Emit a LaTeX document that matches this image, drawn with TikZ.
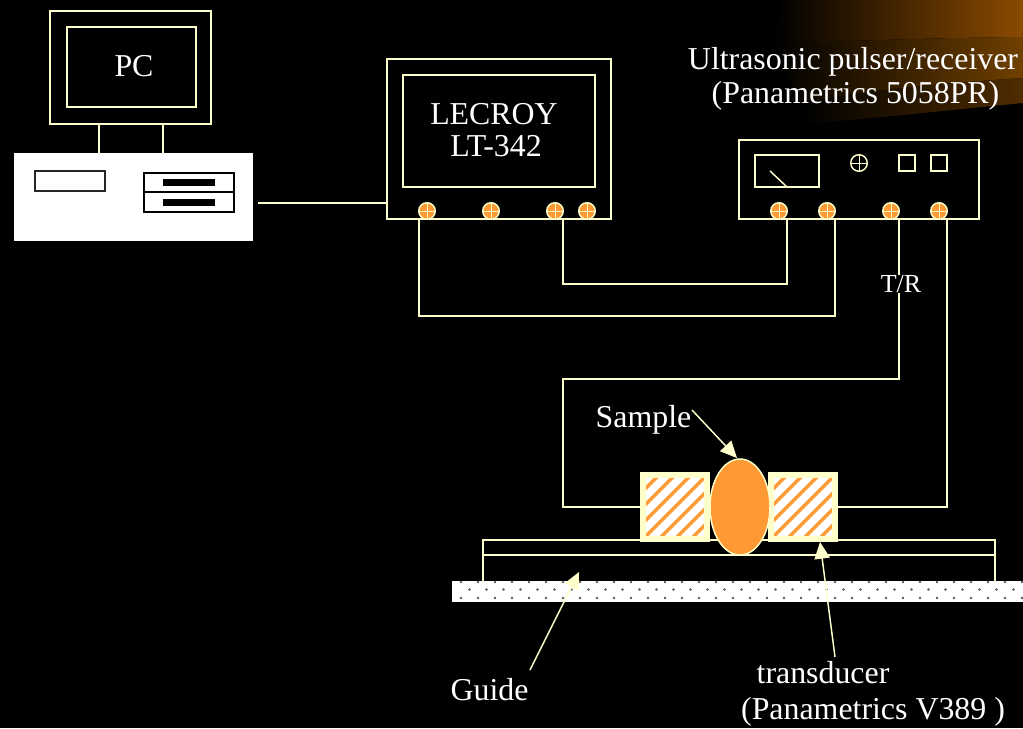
\documentclass[tikz,border=0pt]{standalone}
\usepackage{fontspec}
\setmainfont{Liberation Serif}
\usetikzlibrary{arrows.meta}
\definecolor{pale}{HTML}{FFFFCC}
\definecolor{orng}{HTML}{FF9933}
\definecolor{swoosh}{HTML}{8A4A00}
\definecolor{swoosha}{HTML}{704000}
\definecolor{swooshb}{HTML}{502C00}
\tikzset{
  x=0.75pt,y=-0.75pt,
  wire/.style={draw=pale,line width=1.1pt},
  box/.style={draw=pale,line width=1.1pt},
  port/.style={circle,draw=pale,fill=orng,line width=1.1pt,minimum size=12.4pt,inner sep=0pt,
    path picture={\draw[pale,line width=.75pt]
      (path picture bounding box.north)--(path picture bounding box.south)
      (path picture bounding box.west)--(path picture bounding box.east);}},
  knob/.style={port,fill=none},
  lbl/.style={text=white,inner sep=0pt,font=\fontsize{23.9pt}{28pt}\selectfont},
  small/.style={text=white,inner sep=0pt,font=\fontsize{19.5pt}{23pt}\selectfont},
  pointer/.style={draw=pale,line width=1.1pt,-{Triangle[length=12.5pt,width=11.5pt,fill=pale]}},
}
\begin{document}
\begin{tikzpicture}
\useasboundingbox (0,0) rectangle (1023,728);
\fill[black] (0,0) rectangle (1023,728);
% background swoosh
\shade[left color=black,right color=swoosh,draw=none]
  (780,0) -- (1023,0) -- (1023,37) .. controls (920,38) and (850,41) .. (775,44) -- cycle;
\shade[left color=black,right color=swoosha,draw=none]
  (775,44) .. controls (850,41) and (920,38) .. (1023,37) -- (1023,78) .. controls (930,84) and (850,92) .. (800,104) -- cycle;
\shade[left color=black,right color=swooshb,draw=none]
  (800,104) .. controls (850,92) and (930,84) .. (1023,78) -- (1023,103) .. controls (950,110) and (880,118) .. (802,124) -- cycle;

% PC
\draw[box] (50,11) rectangle (211,124);
\draw[box] (67,27) rectangle (196,107);
\coordinate (pcA) at (99,124); \coordinate (pcB) at (163,124);
\node[lbl] (pclabel) at (134,66) {PC};
\node[fill=white,draw=none,minimum width=179.25pt,minimum height=66pt,inner sep=0pt] (tower) at (133.5,197) {};
\draw[wire] (pcA) -- (pcA |- tower.north);
\draw[wire] (pcB) -- (pcB |- tower.north);
\draw[black!85,line width=1.1pt,fill=white] (35,171) rectangle (105,191);
\draw[black,line width=1.1pt,fill=white] (144,173) rectangle (234,192);
\draw[black,line width=1.1pt,fill=white] (144,192) rectangle (234,212);
\fill[black] (163,179) rectangle (215,186);
\fill[black] (163,199) rectangle (215,206);

% LeCroy
\node[box,minimum width=168pt,minimum height=120pt,inner sep=0pt] (scope) at (499,139) {};
\draw[box] (403,75) rectangle (595,187);
\node[lbl] (lecroy) at (494,114) {LECROY};
\node[lbl] (lt) at (496,146) {LT-342};
\node[port] (s1) at (427,211) {};
\node[port] (s2) at (491,211) {};
\node[port] (s3) at (555,211) {};
\node[port] (s4) at (587,211) {};
\coordinate (towerR) at (258,203);
\draw[wire] (towerR) -- (towerR -| scope.west);

% Pulser
\node[box,minimum width=180pt,minimum height=59.25pt,inner sep=0pt] (pulser) at (859,179.5) {};
\draw[box] (755,155) rectangle (819,187);
\draw[box] (770,171) -- (787,187);
\node[knob] (knob) at (859,163) {};
\draw[box] (899,155) rectangle (915,171);
\draw[box] (931,155) rectangle (947,171);
\node[port] (r1) at (779,211) {};
\node[port] (r2) at (827,211) {};
\node[port] (r3) at (891,211) {};
\node[port] (r4) at (939,211) {};
\node[lbl] (ultra) at (853,62) {Ultrasonic pulser/receiver};
\node[lbl] (pana) at (855.5,96) {(Panametrics 5058PR)};

% Wires
\coordinate (sa) at (419,219); \coordinate (sb) at (563,219);
\coordinate (ra) at (787,219); \coordinate (rb) at (835,219);
\coordinate (rc) at (899,219); \coordinate (rd) at (947,219);
\draw[wire] (sb) -- (563,284) -- (787,284) -- (ra);
\draw[wire] (sa) -- (419,316) -- (835,316) -- (rb);
\node[small] (tr) at (901,284) {T/R};
\draw[wire] (rc) -- (tr.north -| rc);

% Guide
\draw[box] (483,540) rectangle (995,555);
\fill[white] (452,581) rectangle (1023,602);
\draw[wire] (483,555) -- (483,581);
\draw[wire] (995,555) -- (995,581);
\foreach \i in {0,...,33}{
  \fill[black!65] ({461+17*\i},582) circle[radius=1pt];
  \fill[black!65] ({469.5+17*\i},589.5) circle[radius=1pt];
  \fill[black!65] ({461+17*\i},598) circle[radius=1pt];
}

% Transducers
\node[draw=none,minimum width=52.5pt,minimum height=52.5pt,inner sep=0pt] (tl) at (675,507) {};
\node[draw=none,minimum width=52.5pt,minimum height=52.5pt,inner sep=0pt] (tr2) at (803,507) {};
\foreach \c in {675,803}{
  \begin{scope}
    \clip (\c-32,475) rectangle (\c+32,539);
    \fill[white] (\c-32,475) rectangle (\c+32,539);
    \foreach \k in {-6,...,6}{
      \draw[orng,line width=2.6pt] ({\c+\k*16-50},557) -- ({\c+\k*16+50},457);
    }
  \end{scope}
  \draw[pale,line width=4.5pt] (\c-32,475) rectangle (\c+32,539);
}
\draw[wire] (rc |- tr.south) -- (899,379) -- (563,379) -- (563,507) -- (tl.west);
\draw[wire] (rd) -- (947,507) -- (tr2.east);

% Sample
\draw[pale,fill=orng,line width=1.1pt] (740,507) ellipse [x radius=30,y radius=48];
\coordinate (samp) at (737,458);
\node[lbl] (sample) at (643.5,420) {Sample};
\draw[pointer] (692,410) -- (samp);

% labels below
\node[lbl] (guide) at (489.5,690) {Guide};
\node[lbl] (trans) at (823,673) {transducer};
\node[lbl] (pv) at (873,712) {(Panametrics V389 )};
\coordinate (gtip) at (579,572);
\coordinate (ttip) at (820,542);
\coordinate (gt) at (530,670);
\coordinate (tt) at (835,657);
\draw[pointer] (gt) -- (gtip);
\draw[pointer] (tt) -- (ttip);
\end{tikzpicture}
\end{document}
